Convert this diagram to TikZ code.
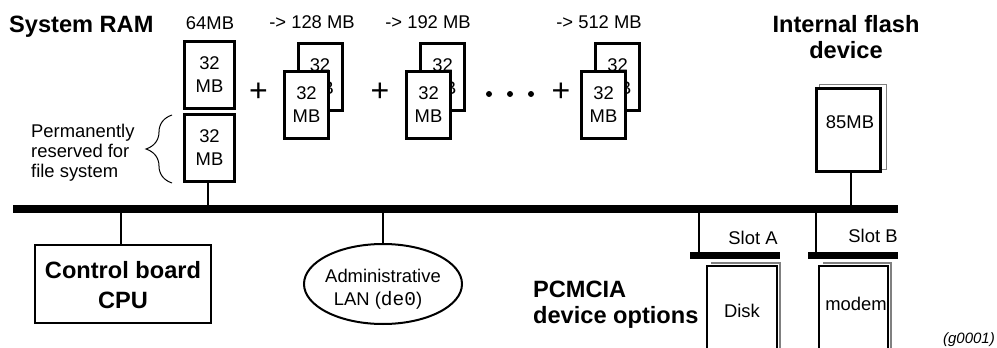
\documentclass[tikz,border=0pt]{standalone}
\usepackage{fontspec}
\setmainfont{Liberation Sans}
\setmonofont{Liberation Mono}
\usetikzlibrary{shapes.geometric,decorations.pathreplacing}
\begin{document}
\begin{tikzpicture}[x=1pt,y=-1pt,
  reg/.style={font=\fontsize{18.4}{23}\selectfont, inner sep=0pt},
  bld/.style={font=\fontsize{23.6}{26}\selectfont\bfseries, inner sep=0pt},
  plus/.style={font=\fontsize{32}{32}\selectfont, inner sep=0pt},
  ram/.style={draw, line width=3pt, fill=white, minimum width=50pt, minimum height=67pt, align=center, inner sep=0pt, font=\fontsize{18.4}{23}\selectfont},
  ramb/.style={ram, minimum width=44pt},
  conn/.style={line width=2pt},
  bus/.style={line width=8pt},
  bar/.style={line width=7pt},
  shadow/.style={draw=gray, line width=1.5pt},
  cardfront/.style={line width=2pt, fill=white},
]
\useasboundingbox (0,0) rectangle (997,348);

% titles
\node[bld, anchor=base west] (sysram) at (9,32) {System RAM};
\node[reg, anchor=base] (l64) at (210,29) {64MB};
\node[reg, anchor=base] (l128) at (312,28) {-> 128 MB};
\node[reg, anchor=base] (l192) at (428,28) {-> 192 MB};
\node[reg, anchor=base] (l512) at (599,28) {-> 512 MB};

% base RAM
\node[ram] (ram1) at (209.5,74.5) {32\\MB};
\node[ram] (ram2) at (209.5,148) {32\\MB};
\draw[decorate, decoration={brace, amplitude=26pt}, line width=1pt] (172,183) -- (172,115);
\node[reg, anchor=base west] (perm1) at (31,137) {Permanently};
\node[reg, anchor=base west] (perm2) at (31,157) {reserved for};
\node[reg, anchor=base west] (perm3) at (31,177) {file system};

% additions
\node[plus] (p1) at (258.5,92) {+};
\node[ramb] (b1) at (320,77) {32\\MB};
\node[ramb] (f1) at (306.5,105) {32\\MB};
\node[plus] (p2) at (380,92) {+};
\node[ramb] (b2) at (442.5,77) {32\\MB};
\node[ramb] (f2) at (428.5,105) {32\\MB};
\fill (489,94) circle (3) (510,94) circle (3) (531,94) circle (3);
\node[plus] (p3) at (561,92) {+};
\node[ramb] (b3) at (617.5,77) {32\\MB};
\node[ramb] (f3) at (603.5,105) {32\\MB};

% flash
\node[bld, anchor=base] (fl1) at (846,32) {Internal flash};
\node[bld, anchor=base] (fl2) at (846,58) {device};
\draw[draw=gray, line width=1pt] (819,84) rectangle (886,169);
\node[draw, line width=3pt, fill=white, minimum width=64pt, minimum height=83pt, inner sep=0pt] (flash) at (848.5,130) {};
\node[reg, anchor=base] (flashtxt) at (850,128) {85MB};

% bus
\coordinate (busL) at (13,209);
\coordinate (busR) at (898,209);
\draw[bus] (busL) -- (busR);

\coordinate (rtap) at (208,209);
\draw[conn] (rtap) -- (rtap |- ram2.south);
\coordinate (ftap) at (851,209);
\draw[conn] (ftap) -- (ftap |- flash.south);

% CPU
\node[draw, line width=2pt, minimum width=176pt, minimum height=78pt, inner sep=0pt] (cpu) at (123,284) {};
\coordinate (ctap) at (121,209);
\draw[conn] (ctap) -- (ctap |- cpu.north);
\node[bld, anchor=base] (cpu1) at (123,278) {Control board};
\node[bld, anchor=base] (cpu2) at (123,308) {CPU};

% LAN
\node[ellipse, draw, line width=2pt, minimum width=158pt, minimum height=80pt, inner sep=0pt] (lan) at (383,284) {};
\coordinate (ltap) at (383,209);
\draw[conn] (ltap) -- (lan.north);
\node[reg, anchor=base] (lan1) at (383,282) {Administrative};
\node[reg, anchor=base] (lan2) at (378,305) {LAN ({\fontsize{19.5}{23}\ttfamily de0})};

% PCMCIA slots
\coordinate (tapA) at (699,209);
\coordinate (barAL) at (690,255.5);
\coordinate (barAR) at (780,255.5);
\draw[bar] (barAL) -- (barAR);
\draw[conn] (tapA) -- (tapA |- barAL);
\node[reg, anchor=base] (slotA) at (753,244) {Slot A};

\coordinate (tapB) at (816,209);
\coordinate (barBL) at (808,255.5);
\coordinate (barBR) at (898,255.5);
\draw[bar] (barBL) -- (barBR);
\draw[conn] (tapB) -- (tapB |- barBL);
\node[reg, anchor=base] (slotB) at (873,242) {Slot B};

% cards
\draw[shadow] (711,263) -- (780,263) -- (780,352);
\draw[cardfront] (707,352) -- (707,266) -- (777,266) -- (777,352);
\node[reg, anchor=base] (disk) at (742,317) {Disk};
\draw[shadow] (823,263) -- (891,263) -- (891,352);
\draw[cardfront] (819,352) -- (819,266) -- (888,266) -- (888,352);
\node[reg, anchor=base] (modem) at (856,310) {modem};

\node[bld, anchor=base west] (pc1) at (533,297) {PCMCIA};
\node[bld, anchor=base west] (pc2) at (533,323) {device options};

\node[font=\fontsize{15}{17}\selectfont\itshape, inner sep=0pt, anchor=base east] (fig) at (995,343) {(g0001)};
\end{tikzpicture}
\end{document}
